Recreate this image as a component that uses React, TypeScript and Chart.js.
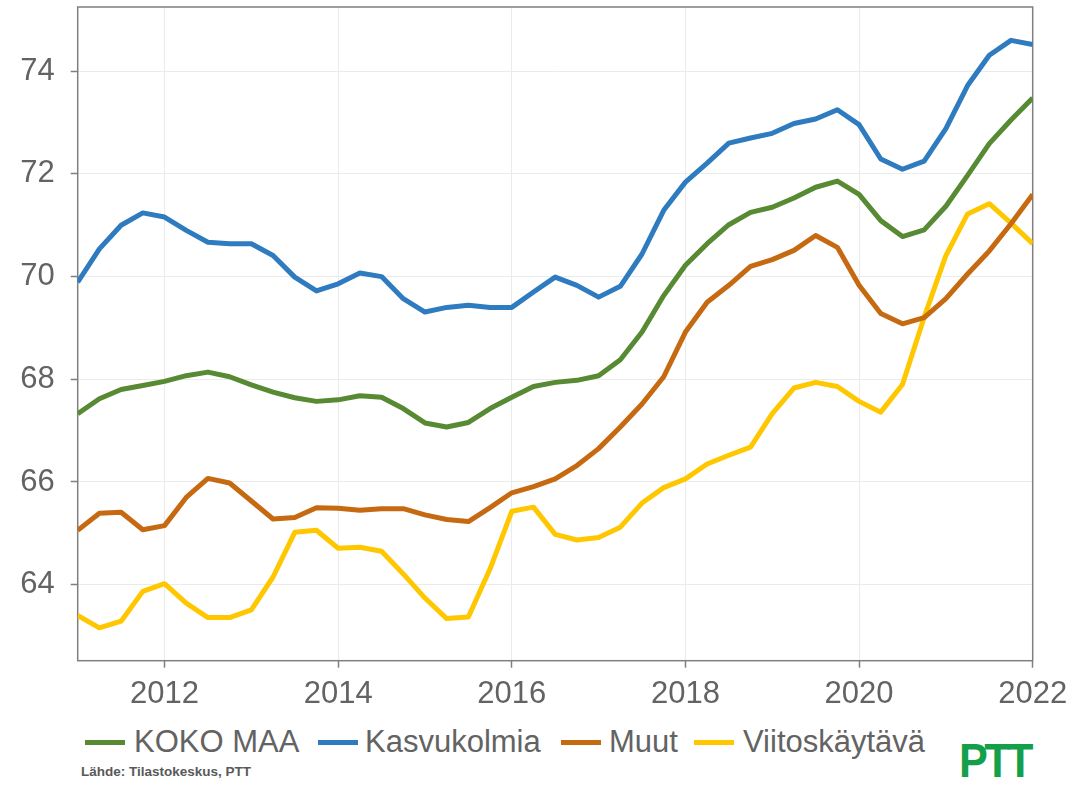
import React, { useEffect, useRef } from "react";
import { Chart, registerables } from "chart.js";

Chart.register(...registerables);

// ---- data ----
const startYear = 2011;
const xTickYears = [2012, 2014, 2016, 2018, 2020, 2022];
const yTickValues = [64, 66, 68, 70, 72, 74];
const seriesNames = ["KOKO MAA", "Kasvukolmia", "Muut", "Viitoskäytävä"];
const seriesColors = ["#578a33", "#2f7bbf", "#c66a12", "#ffc700"];

const kokoMaa = [
  67.33, 67.62, 67.8, 67.88,
  67.96, 68.07, 68.14, 68.05,
  67.89, 67.75, 67.64, 67.57,
  67.6, 67.68, 67.65, 67.43,
  67.15, 67.07, 67.16, 67.43,
  67.65, 67.86, 67.94, 67.98,
  68.07, 68.38, 68.92, 69.63,
  70.22, 70.64, 71.01, 71.25,
  71.35, 71.53, 71.74, 71.86,
  71.6, 71.09, 70.78, 70.91,
  71.37, 71.97, 72.59, 73.05,
  73.48,
];
const kasvukolmia = [
  69.89, 70.54, 71.0, 71.24,
  71.16, 70.9, 70.67, 70.64,
  70.64, 70.41, 69.99, 69.72,
  69.86, 70.07, 70.0, 69.57,
  69.31, 69.4, 69.44, 69.4,
  69.4, 69.7, 69.99, 69.83,
  69.6, 69.81, 70.44, 71.29,
  71.84, 72.21, 72.6, 72.7,
  72.79, 72.98, 73.07, 73.25,
  72.96, 72.29, 72.09, 72.25,
  72.88, 73.72, 74.31, 74.6,
  74.52,
];
const muut = [
  65.06, 65.39, 65.41, 65.07,
  65.15, 65.7, 66.07, 65.98,
  65.63, 65.28, 65.31, 65.5,
  65.49, 65.45, 65.48, 65.48,
  65.36, 65.27, 65.23, 65.5,
  65.79, 65.91, 66.06, 66.32,
  66.65, 67.07, 67.52, 68.05,
  68.92, 69.5, 69.83, 70.2,
  70.33, 70.51, 70.8, 70.57,
  69.83, 69.28, 69.08, 69.2,
  69.57, 70.05, 70.5, 71.03,
  71.6,
];
const viitoskaytava = [
  63.4, 63.16, 63.29, 63.87,
  64.02, 63.64, 63.36, 63.36,
  63.51, 64.15, 65.02, 65.06,
  64.71, 64.73, 64.65, 64.21,
  63.74, 63.34, 63.37, 64.31,
  65.43, 65.51, 64.98, 64.87,
  64.92, 65.12, 65.59, 65.89,
  66.06, 66.35, 66.52, 66.68,
  67.33, 67.83, 67.94, 67.86,
  67.57, 67.36, 67.9, 69.21,
  70.41, 71.22, 71.42, 71.04,
  70.64,
];
const seriesValues = [kokoMaa, kasvukolmia, muut, viitoskaytava];

// quarter positions on the time axis (2011 Q1 ... 2022 Q1)
const quarters = kokoMaa.map((_, i) => startYear + i / 4);

const FONT = "'Liberation Sans', Arial, sans-serif";
const TEXT_COLOR = "#636363";

const framePlugin = {
  id: "frame",
  beforeDatasetsDraw(chart: any) {
    const { ctx, chartArea } = chart;
    ctx.save();
    ctx.strokeStyle = "#7f7f7f";
    ctx.lineWidth = 1.5;
    ctx.strokeRect(chartArea.left, chartArea.top, chartArea.right - chartArea.left, chartArea.bottom - chartArea.top);
    ctx.restore();
  },
};

function zeroPadding(scale: any) {
  scale.paddingTop = 0;
  scale.paddingBottom = 0;
  scale.paddingLeft = 0;
  scale.paddingRight = 0;
}

export default function App() {
  const canvasRef = useRef<HTMLCanvasElement | null>(null);

  useEffect(() => {
    if (!canvasRef.current) return;
    const chart = new Chart(canvasRef.current, {
      type: "line",
      data: {
        datasets: seriesNames.map((name, s) => ({
          label: name,
          data: quarters.map((q, i) => ({ x: q, y: seriesValues[s][i] })),
          borderColor: seriesColors[s],
          backgroundColor: seriesColors[s],
          borderWidth: 5,
          pointRadius: 0,
          tension: 0,
          borderJoinStyle: "round" as const,
          borderCapStyle: "butt" as const,
          order: s,
        })),
      },
      options: {
        responsive: false,
        animation: false,
        events: [],
        layout: { padding: { left: 0, right: 38.3, top: 7, bottom: 0 } },
        plugins: {
          legend: { display: false },
          tooltip: { enabled: false },
          title: { display: false },
        },
        scales: {
          x: {
            type: "linear",
            min: 2011,
            max: 2022,
            afterBuildTicks: (scale: any) => {
              scale.ticks = xTickYears.map((v) => ({ value: v }));
            },
            afterFit: (scale: any) => {
              scale.height = 59.3;
              zeroPadding(scale);
            },
            ticks: {
              font: { family: FONT, size: 31 },
              color: TEXT_COLOR,
              padding: 8,
              maxRotation: 0,
              autoSkip: false,
              callback: (v: any) => String(v),
            },
            grid: {
              color: "#ebebeb",
              lineWidth: 1,
              tickColor: "#7f7f7f",
              tickLength: 7,
              tickWidth: 1.5,
            },
            border: { display: false },
          },
          y: {
            type: "linear",
            min: 62.52,
            max: 75.25,
            afterBuildTicks: (scale: any) => {
              scale.ticks = yTickValues.map((v) => ({ value: v }));
            },
            afterFit: (scale: any) => {
              scale.width = 77.7;
              zeroPadding(scale);
            },
            ticks: {
              font: { family: FONT, size: 31 },
              color: TEXT_COLOR,
              padding: 16,
              autoSkip: false,
              callback: (v: any) => String(v),
            },
            grid: {
              color: "#ebebeb",
              lineWidth: 1,
              tickColor: "#7f7f7f",
              tickLength: 7,
              tickWidth: 1.5,
            },
            border: { display: false },
          },
        },
      },
      plugins: [framePlugin],
    } as any);
    return () => chart.destroy();
  }, []);

  const legendLineX = [85, 318, 561, 694];
  const legendTextX = [134, 365, 609, 743];

  return (
    <div style={{ position: "relative", width: 1071, height: 787, overflow: "hidden", background: "#fff" }}>
      <style>{`body{margin:0;background:#fff}`}</style>
      <canvas ref={canvasRef} width={1071} height={720} style={{ position: "absolute", left: 0, top: 0 }} />
      {seriesNames.map((name, i) => (
        <React.Fragment key={name}>
          <div
            style={{
              position: "absolute",
              left: legendLineX[i],
              top: 739.5,
              width: 40,
              height: 5,
              background: seriesColors[i],
            }}
          />
          <div
            style={{
              position: "absolute",
              left: legendTextX[i],
              top: 726,
              fontFamily: FONT,
              fontSize: 31,
              lineHeight: "31px",
              color: TEXT_COLOR,
              whiteSpace: "nowrap",
            }}
          >
            {name}
          </div>
        </React.Fragment>
      ))}
      <div
        style={{
          position: "absolute",
          left: 81,
          top: 765,
          fontFamily: FONT,
          fontSize: 13.5,
          lineHeight: "13.5px",
          fontWeight: "bold",
          color: "#595959",
          whiteSpace: "nowrap",
        }}
      >
        Lähde: Tilastokeskus, PTT
      </div>
      <div
        style={{
          position: "absolute",
          left: 959,
          top: 737,
          fontFamily: FONT,
          fontSize: 48,
          lineHeight: "48px",
          fontWeight: 900,
          color: "#14a04a",
          whiteSpace: "nowrap",
          letterSpacing: -4,
          transform: "scaleX(0.9)",
          transformOrigin: "left top",
        }}
      >
        PTT
      </div>
    </div>
  );
}
